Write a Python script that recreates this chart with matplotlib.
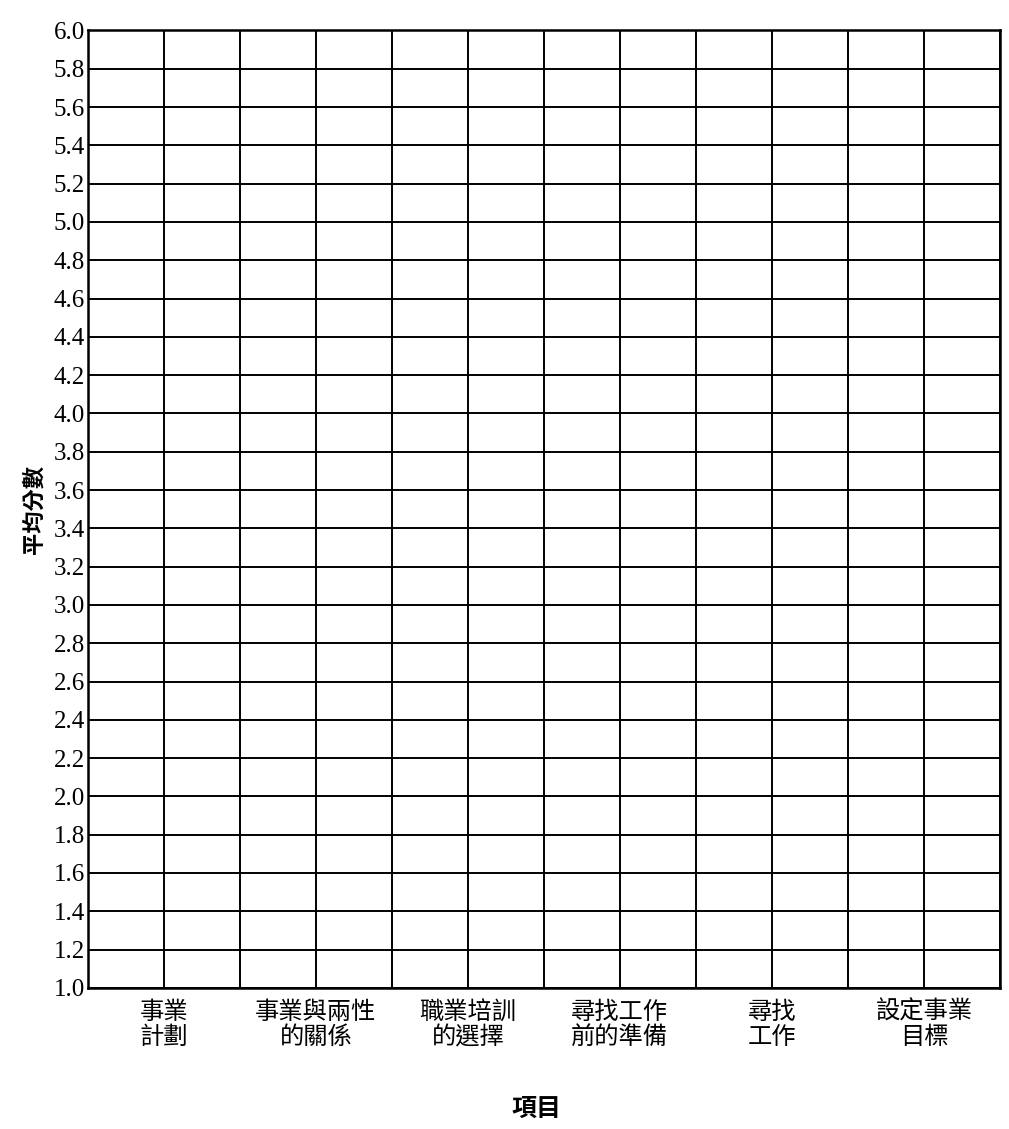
import matplotlib
matplotlib.use("Agg")
import matplotlib.pyplot as plt

plt.rcParams['font.family'] = ['Noto Sans CJK TC', 'DejaVu Sans']

# blank worksheet grid: 6 items, mean score 1.0 - 6.0
items = ["事業\n計劃", "事業與兩性\n的關係", "職業培訓\n的選擇",
         "尋找工作\n前的準備", "尋找\n工作", "設定事業\n目標"]
item_pos = [1, 3, 5, 7, 9, 11]
col_edges = [0, 1, 2, 3, 4, 5, 6, 7, 8, 9, 10, 11, 12]
y_ticks = [1.0, 1.2, 1.4, 1.6, 1.8, 2.0, 2.2, 2.4, 2.6, 2.8, 3.0,
           3.2, 3.4, 3.6, 3.8, 4.0, 4.2, 4.4, 4.6, 4.8, 5.0,
           5.2, 5.4, 5.6, 5.8, 6.0]

fig = plt.figure(figsize=(10.09, 11.29), dpi=100)
ax = fig.add_axes([0.087, 0.125, 0.904, 0.848])

ax.set_xlim(col_edges[0], col_edges[-1])
ax.set_ylim(y_ticks[0], y_ticks[-1])

ax.set_xticks(item_pos)
ax.set_xticklabels(items, fontsize=17.5, linespacing=0.95)
ax.set_xticks(col_edges, minor=True)
ax.set_yticks(y_ticks)
ax.set_yticklabels([f"{v:.1f}" for v in y_ticks],
                   family="Liberation Serif", fontsize=18)

ax.grid(True, which="both", color="black", linewidth=1.4)
ax.set_axisbelow(False)
ax.tick_params(which="both", length=0)
ax.tick_params(axis="x", pad=8)
ax.tick_params(axis="y", pad=2)
for s in ax.spines.values():
    s.set_linewidth(1.8)
    s.set_color("black")

ax.set_ylabel("平均分數", fontsize=16, fontweight="bold", labelpad=6)
fig.text(0.532, 0.007, "項目", fontsize=18, fontweight="bold",
         ha="center", va="bottom")

fig.savefig("out.png", dpi=100, facecolor="white")
